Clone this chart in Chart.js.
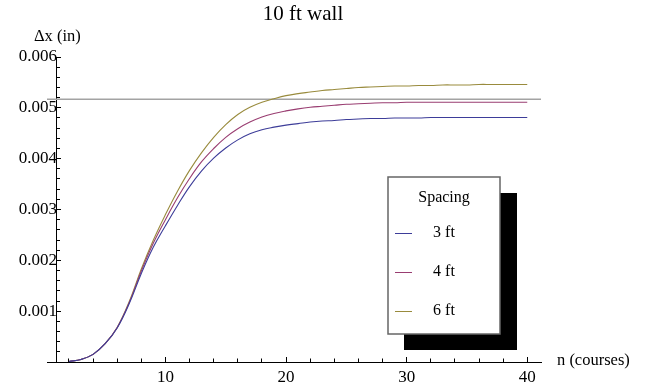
<!DOCTYPE html>
<html>
<head>
<meta charset="utf-8">
<script src="https://cdn.jsdelivr.net/npm/chart.js@4.4.0/dist/chart.umd.min.js"></script>
<style>
  body { margin: 0; background: #fff; }
</style>
</head>
<body>
<canvas id="myChart" width="652" height="387"></canvas>
<script>
// courses n = 2..40
var courses = [];
for (var i = 2; i <= 40; i++) courses.push(i);

var spacing3 = [0.00001, 0.00005, 0.00015, 0.00036, 0.00067, 0.00115, 0.00174, 0.00226, 0.00268,
  0.00308, 0.00345, 0.00376, 0.00401, 0.00421, 0.00437, 0.00449, 0.00457, 0.00462, 0.00466,
  0.00469, 0.00472, 0.00474, 0.00475, 0.00477, 0.00478, 0.00479, 0.00479, 0.00480, 0.00480,
  0.00480, 0.00481, 0.00481, 0.00481, 0.00481, 0.00481, 0.00481, 0.00481, 0.00481, 0.00481];
var spacing4 = [0.00001, 0.00005, 0.00015, 0.00036, 0.00068, 0.00117, 0.00179, 0.00234, 0.00280,
  0.00323, 0.00361, 0.00394, 0.00420, 0.00442, 0.00459, 0.00472, 0.00482, 0.00489, 0.00494,
  0.00498, 0.00501, 0.00503, 0.00505, 0.00507, 0.00508, 0.00509, 0.00510, 0.00510, 0.00511,
  0.00511, 0.00511, 0.00511, 0.00511, 0.00511, 0.00511, 0.00511, 0.00511, 0.00511, 0.00511];
var spacing6 = [0.00001, 0.00005, 0.00015, 0.00036, 0.00068, 0.00119, 0.00183, 0.00240, 0.00290,
  0.00336, 0.00377, 0.00412, 0.00442, 0.00467, 0.00487, 0.00501, 0.00511, 0.00518, 0.00524,
  0.00528, 0.00531, 0.00534, 0.00536, 0.00538, 0.00540, 0.00541, 0.00542, 0.00543, 0.00543,
  0.00544, 0.00544, 0.00545, 0.00545, 0.00545, 0.00546, 0.00546, 0.00546, 0.00546, 0.00546];
var refLine = 0.00517;

var seriesLabels = ["3 ft", "4 ft", "6 ft"];
var seriesColors = ["#3d3d99", "#993d71", "#998b3d"];

var xTicks = [10, 20, 30, 40];
var yTicks = [0.001, 0.002, 0.003, 0.004, 0.005, 0.006];
var xMinor = [2, 4, 6, 8, 12, 14, 16, 18, 22, 24, 26, 28, 32, 34, 36, 38];
var yMinor = [];
for (var k = 1; k < 30; k++) if (k % 5 !== 0) yMinor.push(k * 0.0002);

var xMin = 0.18, xMax = 41.14;

function pts(arr) {
  return arr.map(function (v, i) { return { x: courses[i], y: v }; });
}

Chart.defaults.font.family = "'Liberation Serif', 'Times New Roman', serif";
Chart.defaults.font.size = 17;
Chart.defaults.color = "#000";

// title, axis labels, legend box with shadow
var decor = {
  id: "decor",
  afterDraw: function (chart) {
    var c = chart.ctx;
    c.save();
    c.fillStyle = "#000";
    c.textBaseline = "middle";
    c.font = "21px 'Liberation Serif', serif";
    c.textAlign = "center";
    c.fillText("10 ft wall", 303, 14);
    c.font = "16.5px 'Liberation Serif', serif";
    c.textAlign = "left";
    c.fillText("\u0394x (in)", 34, 37);
    c.fillText("n (courses)", 557, 361);

    // legend
    c.fillStyle = "#000";
    c.fillRect(404, 193, 113, 157);
    c.fillStyle = "#fff";
    c.fillRect(388, 177, 112, 157);
    c.strokeStyle = "#666";
    c.lineWidth = 1.5;
    c.strokeRect(388, 177, 112, 157);
    c.fillStyle = "#000";
    c.textAlign = "center";
    c.font = "16px 'Liberation Serif', serif";
    c.fillText("Spacing", 444, 198);
    var ys = [233, 272, 311];
    for (var i = 0; i < 3; i++) {
      c.strokeStyle = seriesColors[i];
      c.lineWidth = 1;
      c.beginPath();
      c.moveTo(395, ys[i] + 0.5);
      c.lineTo(412, ys[i] + 0.5);
      c.stroke();
      c.fillStyle = "#000";
      c.fillText(seriesLabels[i], 444, ys[i]);
    }
    c.restore();
  }
};

var lineStyle = { pointRadius: 0, borderWidth: 1.1, fill: false, tension: 0.4 };

var myChart = new Chart(document.getElementById("myChart").getContext("2d"), {
  type: "line",
  data: {
    datasets: [
      Object.assign({ label: seriesLabels[0], data: pts(spacing3), borderColor: seriesColors[0] }, lineStyle),
      Object.assign({ label: seriesLabels[1], data: pts(spacing4), borderColor: seriesColors[1] }, lineStyle),
      Object.assign({ label: seriesLabels[2], data: pts(spacing6), borderColor: seriesColors[2] }, lineStyle),
      { label: "ref", data: [{ x: xMin, y: refLine }, { x: xMax, y: refLine }],
        borderColor: "#a3a3a3", borderWidth: 1.6, pointRadius: 0 }
    ]
  },
  options: {
    responsive: false,
    animation: false,
    layout: { padding: { left: 47, right: 111, top: 57, bottom: 25 } },
    plugins: { legend: { display: false }, title: { display: false }, tooltip: { enabled: false } },
    scales: {
      x: {
        type: "linear", min: xMin, max: xMax, position: { y: 0 },
        afterFit: function (s) { s.height = 0; },
        afterBuildTicks: function (s) { s.ticks = xTicks.map(function (v) { return { value: v }; }); },
        grid: { drawOnChartArea: false, tickLength: -6, color: "#000" },
        border: { color: "#000", width: 1 },
        ticks: { padding: 11, maxRotation: 0, autoSkip: false }
      },
      x2: {
        type: "linear", min: xMin, max: xMax, position: { y: 0 }, axis: "x",
        afterFit: function (s) { s.height = 0; },
        afterBuildTicks: function (s) { s.ticks = xMinor.map(function (v) { return { value: v }; }); },
        grid: { drawOnChartArea: false, tickLength: -3.5, color: "#000" },
        border: { display: false },
        ticks: { display: false }
      },
      y: {
        type: "linear", min: 0, max: 0.006, position: { x: 1 },
        afterFit: function (s) { s.width = 0; },
        afterBuildTicks: function (s) { s.ticks = yTicks.map(function (v) { return { value: v }; }); },
        grid: { drawOnChartArea: false, tickLength: -5, color: "#000" },
        border: { color: "#000", width: 1 },
        ticks: { padding: 10, callback: function (v) { return v.toFixed(3); } }
      },
      y2: {
        type: "linear", min: 0, max: 0.006, position: { x: 1 }, axis: "y",
        afterFit: function (s) { s.width = 0; },
        afterBuildTicks: function (s) { s.ticks = yMinor.map(function (v) { return { value: v }; }); },
        grid: { drawOnChartArea: false, tickLength: -3, color: "#000" },
        border: { display: false },
        ticks: { display: false }
      }
    }
  },
  plugins: [decor]
});
</script>
</body>
</html>
